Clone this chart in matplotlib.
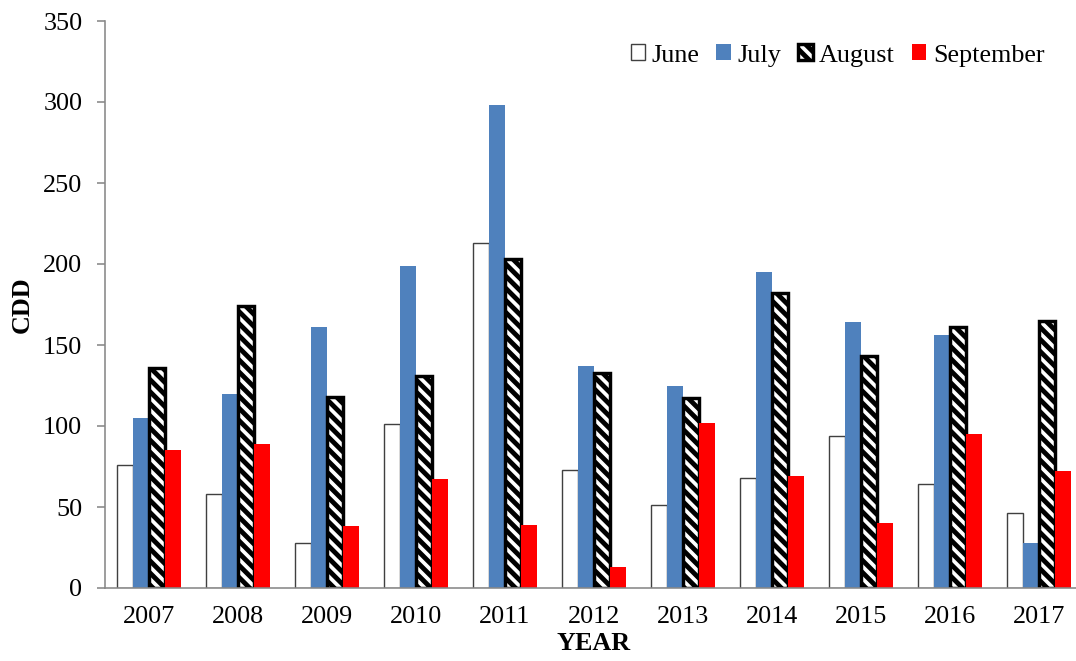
import matplotlib.pyplot as plt
import numpy as np
import matplotlib as mpl

mpl.rcParams['font.family'] = ['Liberation Serif', 'DejaVu Serif']
mpl.rcParams['font.size'] = 13
mpl.rcParams['hatch.linewidth'] = 2.4

years = ['2007', '2008', '2009', '2010', '2011', '2012',
         '2013', '2014', '2015', '2016', '2017']
june = [76, 58, 28, 101, 213, 73, 51, 68, 94, 64, 46]
july = [105, 120, 161, 199, 298, 137, 125, 195, 164, 156, 28]
august = [136, 174, 118, 131, 203, 133, 117, 182, 143, 161, 165]
september = [85, 89, 38, 67, 39, 13, 102, 69, 40, 95, 72]

DPI = 145
fig = plt.figure(figsize=(1076 / DPI, 661 / DPI), dpi=DPI)
ax = fig.add_axes([104.5 / 1076, 73 / 661, 979 / 1076, 567 / 661])

x = np.arange(len(years))
w = 0.18
ax.bar(x - 1.5 * w, june, w, color='white', edgecolor='#404040',
       linewidth=0.7, label='June')
ax.bar(x - 0.5 * w, july, w, color='#4F81BD', label='July')
ax.bar(x + 0.5 * w, august, w, color='white', edgecolor='black',
       linewidth=1.7, hatch='\\\\\\\\', label='August')
ax.bar(x + 1.5 * w, september, w, color='#FF0000', label='September')

ax.set_xlim(-0.5, len(years) - 0.5)
ax.set_ylim(0, 350)
ax.set_yticks(np.arange(0, 351, 50))
ax.set_xticks(x)
ax.set_xticklabels(years)

for s in ['top', 'right']:
    ax.spines[s].set_visible(False)
for s in ['left', 'bottom']:
    ax.spines[s].set_color('#888888')
    ax.spines[s].set_linewidth(0.8)

ax.tick_params(axis='y', direction='out', length=4, width=0.8,
               color='#888888', pad=7)
ax.tick_params(axis='x', length=0, pad=9)

ax.set_ylabel('CDD', fontweight='bold')
ax.yaxis.set_label_coords(-0.072, 0.5)
ax.set_xlabel('YEAR', fontweight='bold', labelpad=2)

ax.legend(loc='upper right', bbox_to_anchor=(1055 / 1076, 1 - 34 / 661),
          bbox_transform=fig.transFigure, ncol=4, frameon=False,
          handlelength=0.55, handleheight=0.55, handletextpad=0.25,
          columnspacing=0.65, borderaxespad=0)

fig.savefig('out.png', dpi=DPI)
